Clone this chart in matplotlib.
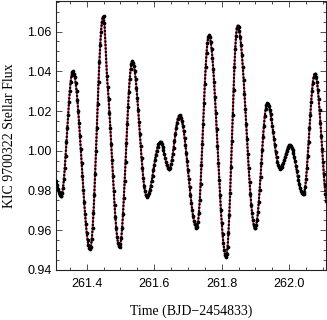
import numpy as np
import matplotlib
matplotlib.use("Agg")
import matplotlib.pyplot as plt
from matplotlib.ticker import MultipleLocator, FormatStrFormatter

# Readings of the light curve (time step 0.0025 d from 261.31), NaN = data gap
t_start = 261.31
t_step = 0.0025
flux = [
    0.9850, 0.9830, 0.9808, 0.9790, 0.9777, 0.9771, 0.9771, 0.9785, 0.9815, 0.9858,
    0.9912, 0.9975, 1.0043, 1.0113, 1.0182, 1.0246, 1.0302, 1.0347, 1.0379, 1.0397,
    1.0399, 1.0388, 1.0369, 1.0339, 1.0300, 1.0253, 1.0199, 1.0139, 1.0075, 1.0007,
    0.9939, 0.9871, 0.9804, 0.9741, 0.9683, 0.9632, 0.9588, 0.9552, 0.9526, 0.9510,
    0.9505, 0.9518, 0.9554, 0.9610, 0.9686, 0.9779, 0.9885, 0.9998, 1.0116, 1.0233,
    1.0344, 1.0445, 1.0531, 1.0600, 1.0649, 1.0674, 1.0676, 1.0645, np.nan, np.nan,
    1.0375, 1.0321, 1.0260, 1.0190, 1.0114, 1.0035, 0.9955, 0.9875, 0.9799, 0.9728,
    0.9665, 0.9611, 0.9567, 0.9536, 0.9519, 0.9514, 0.9530, 0.9562, 0.9613, 0.9680,
    0.9760, 0.9849, 0.9944, 1.0040, 1.0134, 1.0221, 1.0298, 1.0363, 1.0409, 1.0439,
    1.0450, 1.0444, 1.0427, 1.0399, 1.0362, 1.0317, 1.0265, 1.0207, 1.0146, 1.0084,
    1.0023, 0.9965, 0.9911, 0.9864, 0.9825, 0.9796, 0.9777, 0.9768, 0.9770, 0.9777,
    0.9789, 0.9805, 0.9825, 0.9849, 0.9874, 0.9901, 0.9928, 0.9954, 0.9979, 1.0000,
    1.0019, 1.0032, 1.0041, 1.0045, 1.0043, 1.0035, 1.0021, 1.0004, 0.9984, 0.9963,
    0.9943, 0.9926, 0.9914, 0.9907, 0.9907, 0.9915, 0.9931, 0.9954, 0.9982, 1.0015,
    1.0049, 1.0083, 1.0114, 1.0141, 1.0162, 1.0174, 1.0179, 1.0176, 1.0165, 1.0149,
    1.0126, 1.0099, 1.0066, 1.0029, 0.9989, 0.9947, 0.9903, 0.9860, 0.9817, 0.9776,
    0.9738, 0.9703, 0.9673, 0.9649, 0.9630, 0.9617, 0.9611, 0.9614, 0.9640, 0.9687,
    0.9752, 0.9835, 0.9930, 1.0032, 1.0137, 1.0241, 1.0337, 1.0422, 1.0492, 1.0542,
    1.0572, 1.0580, 1.0570, 1.0548, 1.0513, 1.0467, 1.0410, 1.0345, 1.0271, 1.0192,
    1.0109, 1.0024, 0.9938, 0.9855, 0.9776, 0.9702, 0.9637, 0.9580, 0.9534, 0.9499,
    0.9476, 0.9467, 0.9478, 0.9518, 0.9585, 0.9678, 0.9789, 0.9916, 1.0049, 1.0181,
    1.0308, 1.0419, 1.0512, 1.0579, 1.0620, 1.0629, 1.0621, 1.0601, 1.0571, 1.0531,
    1.0481, 1.0422, 1.0356, 1.0286, 1.0212, 1.0135, 1.0059, 0.9983, 0.9911, 0.9844,
    0.9783, 0.9729, 0.9685, 0.9650, 0.9626, 0.9612, 0.9611, 0.9625, 0.9653, 0.9693,
    0.9744, 0.9804, 0.9870, 0.9938, 1.0005, 1.0069, 1.0125, 1.0173, 1.0208, 1.0230,
    1.0238, 1.0234, 1.0224, 1.0207, 1.0185, 1.0158, 1.0127, 1.0094, 1.0060, 1.0027,
    0.9996, 0.9968, 0.9945, 0.9927, 0.9916, 0.9910, 0.9912, 0.9917, 0.9926, 0.9939,
    0.9953, 0.9969, 0.9985, 0.9999, 1.0012, 1.0021, 1.0027, 1.0028, 1.0024, 1.0016,
    1.0004, 0.9988, 0.9969, 0.9947, 0.9923, 0.9899, 0.9875, 0.9852, 0.9831, 0.9813,
    0.9799, 0.9788, 0.9782, 0.9780, 0.9792, 0.9819, 0.9860, 0.9912, 0.9975, 1.0042,
    1.0112, 1.0180, 1.0244, 1.0299, 1.0342, 1.0372, 1.0387, 1.0386, 1.0371, 1.0344,
    1.0306, 1.0258, 1.0203, 1.0141, 1.0075, 1.0009, 0.9944, 0.9884, 0.9829, 0.9783,
    0.9747,
]

x_ticks = [261.4, 261.6, 261.8, 262.0]
y_ticks = [0.94, 0.96, 0.98, 1.00, 1.02, 1.04, 1.06]

flux = np.array(flux)
time = t_start + t_step * np.arange(len(flux))
ok = np.isfinite(flux)
t_ok, f_ok = time[ok], flux[ok]

fig = plt.figure(figsize=(3.27, 3.20), dpi=100)
ax = fig.add_axes([56 / 327, 50 / 320, 270 / 327, 269.5 / 320])

ax.plot(t_ok, f_ok, color="#ec2f5b", lw=1.3, zorder=2)
ax.plot(t_ok, f_ok, color="black", lw=1.8, linestyle=(0, (0.05, 1.35)),
        dash_capstyle="round", zorder=3)
ax.plot(t_ok, f_ok, linestyle="none", marker="o", ms=2.7, mec="none",
        mfc="black", zorder=3)

ax.set_xlim(261.309, 262.109)
ax.set_ylim(0.94, 1.0756)
ax.set_xticks(x_ticks)
ax.set_yticks(y_ticks)
ax.xaxis.set_minor_locator(MultipleLocator(0.05))
ax.yaxis.set_minor_locator(MultipleLocator(0.005))
ax.xaxis.set_major_formatter(FormatStrFormatter("%.1f"))
ax.yaxis.set_major_formatter(FormatStrFormatter("%.2f"))

ax.tick_params(which="both", direction="in", top=True, right=True,
               labelsize=9, width=0.6, colors="#333333", labelcolor="black")
ax.tick_params(which="major", length=4)
ax.tick_params(which="minor", length=2)
ax.tick_params(axis="x", pad=6)
ax.tick_params(axis="y", pad=3)
for lab in ax.get_xticklabels() + ax.get_yticklabels():
    lab.set_fontfamily("Liberation Sans")
for sp in ax.spines.values():
    sp.set_linewidth(0.8)
    sp.set_color("#222222")

ax.set_xlabel("Time (BJD\u22122454833)", family="Liberation Serif", fontsize=10,
              labelpad=10)
ax.set_ylabel("KIC 9700322 Stellar Flux", family="Liberation Serif", fontsize=10,
              labelpad=8)

fig.savefig("out.png", dpi=100)
